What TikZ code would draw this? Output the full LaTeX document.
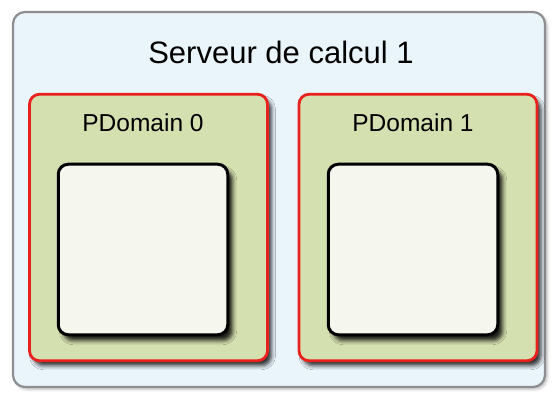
\documentclass[tikz,border=0pt]{standalone}
\usepackage{fontspec}
\setmainfont{Liberation Sans}
\usetikzlibrary{positioning,shadows.blur}

\definecolor{serverfill}{RGB}{234,244,251}
\definecolor{servergray}{RGB}{140,142,145}
\definecolor{domainfill}{RGB}{213,224,176}
\definecolor{domainred}{RGB}{232,33,29}
\definecolor{innerfill}{RGB}{245,247,238}

\tikzset{
    server/.style={draw=servergray,line width=2.2pt,fill=serverfill,rounded corners=12pt,
        minimum width=532pt,minimum height=375pt,inner sep=0pt,
        blur shadow={shadow xshift=2pt,shadow yshift=-2pt,shadow blur radius=3pt,shadow opacity=30}},
    pdbox/.style={draw=domainred,line width=2.8pt,fill=domainfill,rounded corners=10pt,
        minimum width=238pt,minimum height=266.5pt,inner sep=0pt,
        blur shadow={shadow xshift=4pt,shadow yshift=-5pt,shadow blur radius=4pt,shadow opacity=80}},
    guest/.style={draw=black,line width=3pt,fill=innerfill,rounded corners=10pt,
        minimum width=169.5pt,minimum height=170.5pt,inner sep=0pt,
        blur shadow={shadow xshift=5pt,shadow yshift=-6pt,shadow blur radius=4pt,shadow opacity=85}},
    dlabel/.style={inner sep=0pt,font=\fontsize{24.5}{28}\selectfont},
}

\begin{document}
\begin{tikzpicture}[x=1pt,y=-1pt]
    \useasboundingbox (0,0) rectangle (558,404);

    \node[server] (srv) at (279,199.5) {};
    \node[anchor=base,inner sep=0pt,font=\fontsize{31}{35}\selectfont] (title) at (281,64) {Serveur de calcul 1};

    % les deux domaines
    \node[pdbox] (pd0) at (148.5,227.5) {};
    \node[pdbox] (pd1) at (418,227.5) {};

    \node[guest] (in0) at (143,249.5) {};
    \node[guest] (in1) at (413,249.5) {};

    \node[dlabel,above=31pt of in0] (lab0) {PDomain 0};
    \node[dlabel,above=31pt of in1] (lab1) {PDomain 1};
\end{tikzpicture}
\end{document}
